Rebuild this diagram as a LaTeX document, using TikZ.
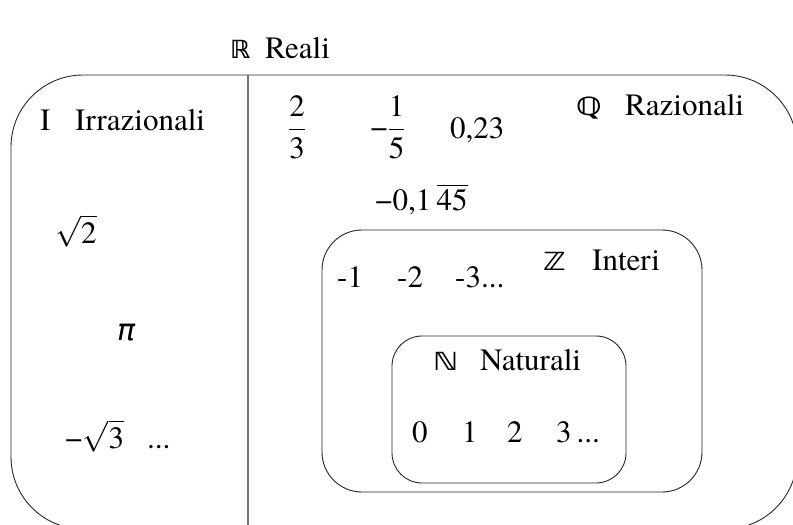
\RequirePackage{fix-cm}
\documentclass[tikz,border=0pt]{standalone}
\usepackage{amsmath}
\usepackage{fontspec}
\setmainfont{texgyretermes}[Extension=.otf, UprightFont=*-regular, BoldFont=*-bold, ItalicFont=*-italic, BoldItalicFont=*-bolditalic]
\newfontfamily\dsfont{DejaVu Sans}
\newcommand{\dstr}[1]{\scalebox{1.2}[1]{#1}}
\tikzset{
  txt/.style={anchor=base west, inner sep=0pt, font=\fontsize{31}{36}\selectfont},
  dbl/.style={anchor=base west, inner sep=0pt, font=\fontsize{25}{30}\dsfont\bfseries},
  mth/.style={anchor=center, inner sep=0pt, font=\fontsize{31}{36}\selectfont},
  setbox/.style={draw=black!85, line width=0.9pt},
  divider/.style={draw=black!55, line width=1.4pt}
}
\begin{document}
\begin{tikzpicture}[x=1pt,y=-1pt]
\useasboundingbox (0,0) rectangle (793,525);
\begin{scope}
\clip (0,0) rectangle (793,525);
\draw[setbox, rounded corners=72pt] (11,75) rectangle (797,529);
\coordinate (dtop) at (248,75);
\coordinate (dbot) at (248,525);
\draw[divider] (dtop) -- (dbot);
\end{scope}
\draw[setbox, rounded corners=40pt] (322,230) rectangle (702,492);
\draw[setbox, rounded corners=30pt] (392,336) rectangle (626,483);
% R
\node[dbl] (Rsym) at (230,58) {ℝ};
\node[txt] (Rtxt) at (265,58) {Reali};
% I
\node[txt] (Isym) at (40,130) {I};
\node[txt] (Itxt) at (75,130) {Irrazionali};
\node[txt] (sq2) at (55,243) {$\sqrt{\text{2}}$};
\node[anchor=base west, inner sep=0pt, font=\fontsize{30}{34}\dsfont\itshape] (pi) at (117,340) {π};
\node[txt] (msq3) at (65,448) {−$\sqrt{\text{3}}$};
\node[txt] (idots) at (147,448) {...};
% Q
\node[dbl] (Qsym) at (576,115) {\dstr{ℚ}};
\node[txt] (Qtxt) at (625,115) {Razionali};
\node[mth] (f23) at (297,127) {$\displaystyle\frac{\text{2}}{\text{3}}$};
\node[mth] (f15) at (388,127) {−$\displaystyle\frac{\text{1}}{\text{5}}$};
\node[txt] (d023) at (450,138) {0,23};
\node[txt] (per) at (375,210) {−0,1\,$\overline{\text{45}}$};
% Z
\node[dbl] (Zsym) at (543,270) {\dstr{ℤ}};
\node[txt] (Ztxt) at (592,270) {Interi};
\node[txt] (zm1) at (337,287) {-1};
\node[txt] (zm2) at (397,287) {-2};
\node[txt] (zm3) at (455,287) {-3...};
% N
\node[dbl] (Nsym) at (433,370) {\dstr{ℕ}};
\node[txt] (Ntxt) at (480,370) {Naturali};
\node[txt] (n0) at (412,442) {0};
\node[txt] (n1) at (462,442) {1};
\node[txt] (n2) at (507,442) {2};
\node[txt] (n3) at (556,442) {3\hspace{5pt}...};
\end{tikzpicture}
\end{document}
